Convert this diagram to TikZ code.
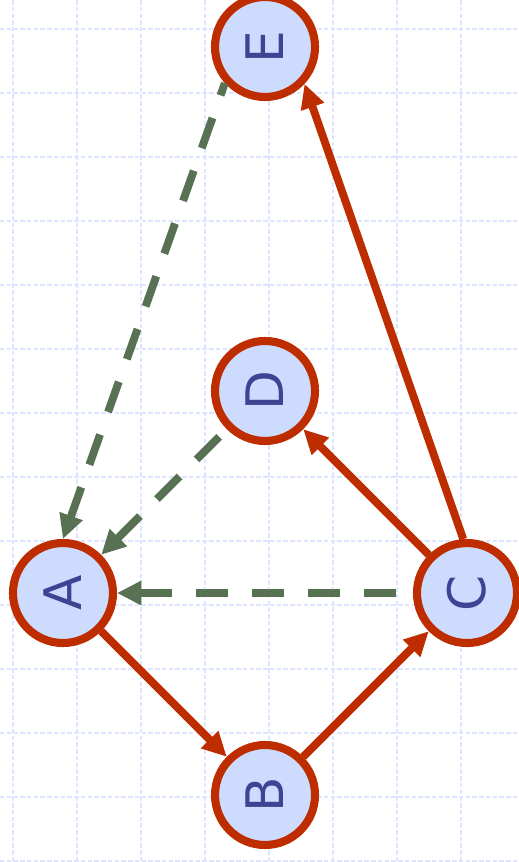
\documentclass[tikz,border=0pt]{standalone}
\usepackage{graphicx}
\usepackage{fontspec}
\usepackage{tikz}
\usetikzlibrary{arrows.meta}
\newfontfamily\vertexfont{DejaVu Sans}
\definecolor{vtxFill}{RGB}{205,219,255}
\definecolor{vtxRim}{RGB}{190,45,0}
\definecolor{vtxInk}{RGB}{62,68,148}
\definecolor{backGreen}{RGB}{88,113,82}
\definecolor{gridBlue}{RGB}{222,230,255}

\begin{document}
\begin{tikzpicture}[
  vertex/.style={circle, draw=vtxRim, fill=vtxFill, line width=3.6pt, minimum size=1.5625cm, inner sep=0pt,
    text=vtxInk, font=\vertexfont\fontsize{23}{28}\selectfont},
  fwd/.style={vtxRim, line width=3.5pt, -{Triangle[length=0.38cm,width=0.36cm]}},
  back/.style={backGreen, line width=3.5pt, dash pattern=on 0.5cm off 0.375cm, {Triangle[length=0.38cm,width=0.36cm]}-}
]
\useasboundingbox (0,0) rectangle (8.109,-13.469);
\fill[white] (0,0) rectangle (8.109,-13.469);

% background grid
\foreach \k in {0,...,7}{
  \draw[gridBlue, line width=0.6pt, dash pattern=on 2pt off 1pt] (0.203+\k,0) -- (0.203+\k,-13.469);
}
\foreach \k in {0,...,13}{
  \draw[gridBlue, line width=0.6pt, dash pattern=on 2pt off 1pt] (0,-0.453-\k) -- (8.109,-0.453-\k);
}

% vertices
\node[vertex] (E) at (4.141,-0.734) {\rotatebox{90}{E}};
\node[vertex] (D) at (4.141,-6.109) {\rotatebox{90}{D}};
\node[vertex] (A) at (0.984,-9.266) {\rotatebox{90}{A}};
\node[vertex] (C) at (7.297,-9.266) {\rotatebox{90}{C}};
\node[vertex] (B) at (4.141,-12.422) {\rotatebox{90}{B}};

% forward edges
\draw[fwd] (A) -- (B);
\draw[fwd] (B) -- (C);
\draw[fwd] (C) -- (D);
\draw[fwd] (C.94) -- (E.-43);

% back edges
\draw[back] (A) -- (C);
\draw[back] (A) -- (D);
\draw[back] (A.90) -- (E.222);
\end{tikzpicture}
\end{document}
